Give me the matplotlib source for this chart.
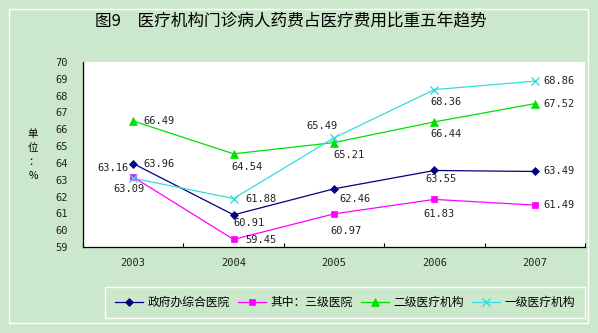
import matplotlib
matplotlib.use('Agg')
import matplotlib.pyplot as plt
from matplotlib.patches import Rectangle
from matplotlib.ticker import FixedLocator

# 数据
years = ['2003', '2004', '2005', '2006', '2007']
zf_zonghe = [63.96, 60.91, 62.46, 63.55, 63.49]    # 政府办综合医院
sanji = [63.16, 59.45, 60.97, 61.83, 61.49]        # 其中：三级医院
erji = [66.49, 64.54, 65.21, 66.44, 67.52]         # 二级医疗机构
yiji = [63.09, 61.88, 65.49, 68.36, 68.86]         # 一级医疗机构
names = ['政府办综合医院', '其中：三级医院', '二级医疗机构', '一级医疗机构']

W, H = 598, 333
bg = '#CCE8CC'
cjk = ['Noto Sans CJK SC', 'DejaVu Sans']
mono = 'DejaVu Sans Mono'

fig = plt.figure(figsize=(W / 100, H / 100), dpi=100, facecolor=bg)
fig.patches.append(Rectangle((9 / W, 1 - 323 / H), 579 / W, 314 / H, transform=fig.transFigure,
                             fill=False, edgecolor='white', lw=1.0))

ax = fig.add_axes([83 / W, 1 - 247 / H, 502 / W, 185 / H])
ax.set_facecolor('white')
x = list(range(len(years)))

series = [
    (zf_zonghe, '#000080', 'D', 4),
    (sanji, '#FF00FF', 's', 5),
    (erji, '#00E000', '^', 5.5),
    (yiji, '#33DDDD', 'x', 6),
]
# 标签偏移 (像素): dx, dy, 对齐
offs = [
    [(10, 0, 'left'), (0, -8, 'left'), (5, -10, 'left'), (7, -9, 'center'), (9, 0, 'left')],
    [(-5, 9, 'right'), (12, -1, 'left'), (12, -17, 'center'), (5, -15, 'center'), (9, 0, 'left')],
    [(10, 0, 'left'), (13, -13, 'center'), (15, -12, 'center'), (12, -12, 'center'), (9, 0, 'left')],
    [(-4, -11, 'center'), (12, 0, 'left'), (-12, 12, 'center'), (12, -12, 'center'), (9, 0, 'left')],
]
handles = []
for (vals, c, m, ms), of in zip(series, offs):
    h, = ax.plot(x, vals, color=c, marker=m, markersize=ms, lw=0.9,
                 markeredgecolor=c, markeredgewidth=1.0 if m == 'x' else 0.5)
    handles.append(h)
    for xi, v, (dx, dy, ha) in zip(x, vals, of):
        ax.annotate('%.2f' % v, (xi, v), xytext=(dx * 0.72, dy * 0.72), textcoords='offset points',
                    ha=ha, va='center', fontsize=7.5, family=mono, color='#222222')

ax.set_xlim(-0.5, 4.5)
ax.set_ylim(59, 70)
ax.set_yticks(range(59, 71))
ax.set_xticks(x)
ax.set_xticklabels(years)
ax.xaxis.set_minor_locator(FixedLocator([-0.5, 0.5, 1.5, 2.5, 3.5, 4.5]))
ax.tick_params(axis='x', which='major', length=0, pad=8)
ax.tick_params(axis='x', which='minor', length=3, direction='in', width=0.8)
ax.tick_params(axis='y', length=0, pad=11)
for lab in ax.get_xticklabels() + ax.get_yticklabels():
    lab.set_family(mono)
    lab.set_fontsize(7.5)
    lab.set_color('#222222')
ax.spines['top'].set_visible(False)
ax.spines['right'].set_visible(False)
ax.spines['left'].set_linewidth(0.9)
ax.spines['bottom'].set_linewidth(0.9)

fig.text(291 / W, 1 - 21 / H, '图9　医疗机构门诊病人药费占医疗费用比重五年趋势',
         ha='center', va='center', fontsize=12, family=cjk)
fig.text(33 / W, 1 - 155 / H, '\n'.join('单位：%'), ha='center', va='center',
         fontsize=7.5, family=cjk, linespacing=1.5)

leg = fig.legend(handles, names, loc='center', bbox_to_anchor=(345 / W, 1 - 302.5 / H),
                 ncol=4, prop={'family': cjk, 'size': 8.5}, handlelength=2.4,
                 handletextpad=0.35, columnspacing=0.7, borderpad=0.8,
                 fancybox=False, framealpha=1)
leg.get_frame().set_facecolor(bg)
leg.get_frame().set_edgecolor('white')
leg.get_frame().set_linewidth(1.0)

fig.savefig('out.png', dpi=100, facecolor=bg)
